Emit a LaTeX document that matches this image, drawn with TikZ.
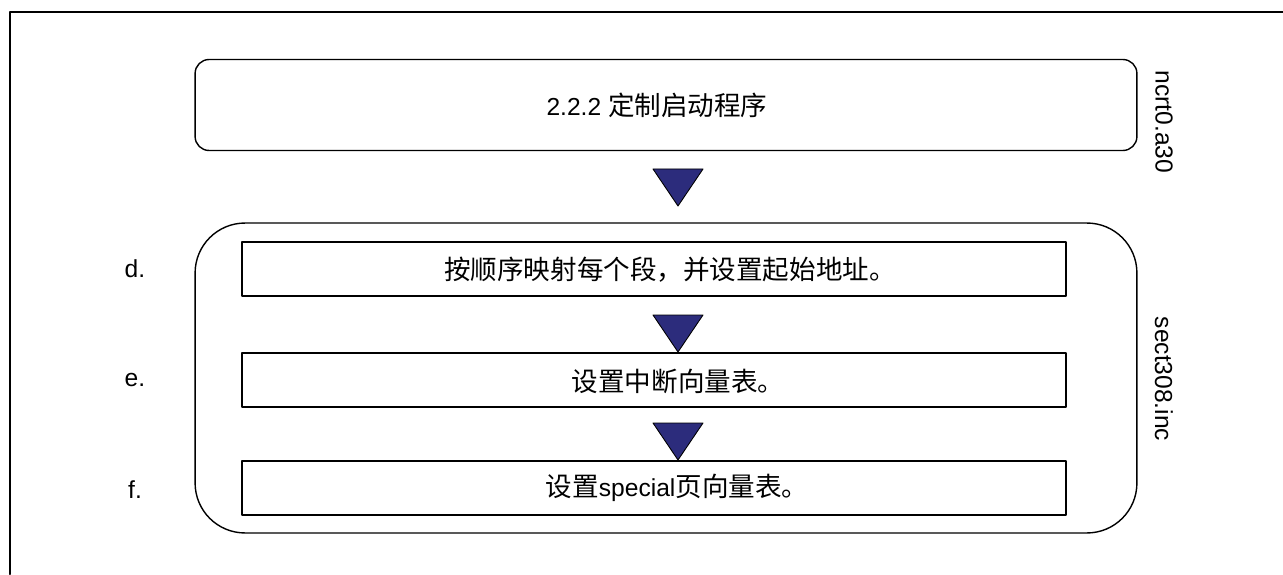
\documentclass[tikz,border=0pt]{standalone}
\usepackage{fontspec}
\setmainfont{Liberation Sans}
\newfontfamily\cjk[Scale=1.08]{Noto Sans CJK SC}
\usetikzlibrary{positioning}
\definecolor{trinavy}{RGB}{44,44,124}

\begin{document}
\begin{tikzpicture}[x=0.02cm, y=-0.02cm, line cap=round, line join=round,
  font=\fontsize{14}{17}\selectfont,
  stepbox/.style={draw, line width=0.8pt, minimum width=16.48cm, minimum height=1.08cm, inner sep=0pt},
  filebox/.style={draw, line width=0.8pt, minimum width=18.84cm, inner sep=0pt},
  tri/.style={draw=black, line width=0.5pt, fill=trinavy},
  lab/.style={anchor=center}]

\useasboundingbox (0,0) rectangle (1283,574);
\draw[line width=1.7pt] (10,574) -- (10,12) -- (1283,12);

% top box
\node[filebox, minimum height=1.82cm, rounded corners=0.28cm] (boot) at (666,105) {};
\node (boottxt) at (657,105) {2.2.2 {\cjk 定制启动程序}};
\node[rotate=-90] (ncrt) at (1164,122) {ncrt0.a30};

% sect308.inc block
\node[filebox, minimum height=6.2cm, rounded corners=1cm] (sect) at (666,378) {};
\node[rotate=-90] (secttxt) at (1164,379) {sect308.inc};

\node[stepbox] (mapseg) at (654,269) {};
\node[stepbox] (vect) at (654,380) {};
\node[stepbox] (special) at (654,488) {};
\node (mapsegtxt) at (670,270) {{\cjk 按顺序映射每个段，并设置起始地址。}};
\node (vecttxt) at (678,381) {{\cjk 设置中断向量表。}};
\node (specialtxt) at (677,488) {{\cjk 设置}special{\cjk 页向量表。}};

\node[lab] (ld) at (135,269) {d.};
\node[lab] (le) at (135,380) {e.};
\node[lab] (lf) at (135,490) {f.};

\foreach \t in {169,315,423}
  \draw[tri] (653,\t) -- (703,\t) -- (678,\t+37) -- cycle;

\end{tikzpicture}
\end{document}
